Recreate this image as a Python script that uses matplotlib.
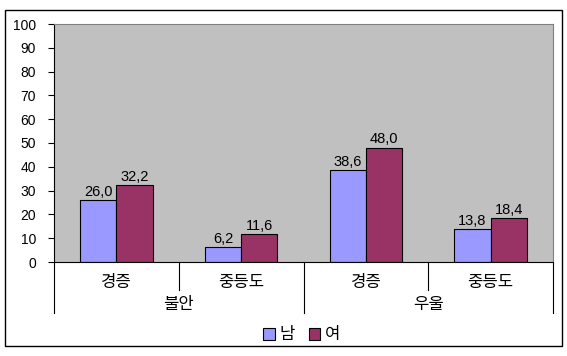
import matplotlib
matplotlib.use("Agg")
import matplotlib.pyplot as plt
from matplotlib.patches import Rectangle
import numpy as np

plt.rcParams["font.family"] = ["Liberation Sans", "Noto Sans CJK KR", "DejaVu Sans"]
plt.rcParams["font.size"] = 10.5

# data
groups = ["불안", "우울"]
categories = ["경증", "중등도", "경증", "중등도"]
male = [26.0, 6.2, 38.6, 13.8]
female = [32.2, 11.6, 48.0, 18.4]
series_names = ["남", "여"]
colors = ["#9999FF", "#993366"]

W, H = 567, 356
fig = plt.figure(figsize=(W / 100, H / 100), dpi=100)
ax = fig.add_axes([54 / W, (H - 262) / H, 499 / W, 238 / H])
ax.set_facecolor("#C0C0C0")

x = np.arange(len(categories))
bw = 0.29
b1 = ax.bar(x - bw / 2, male, bw, color=colors[0], edgecolor="black",
            linewidth=0.8, label=series_names[0])
b2 = ax.bar(x + bw / 2, female, bw, color=colors[1], edgecolor="black",
            linewidth=0.8, label=series_names[1])
ax.bar_label(b1, labels=[f"{v:.1f}".replace(".", ",") for v in male], padding=1)
ax.bar_label(b2, labels=[f"{v:.1f}".replace(".", ",") for v in female], padding=1)

ax.set_xlim(-0.5, len(categories) - 0.5)
ax.set_ylim(0, 100)
ax.set_yticks(range(0, 101, 10))
ax.tick_params(axis="y", length=4, width=0.8, pad=9, direction="out", labelsize=10)
ax.set_xticks([])
for s in ["top", "right"]:
    ax.spines[s].set_color("#808080")
ax.spines["left"].set_color("black")
ax.spines["bottom"].set_color("black")

# two-level category axis
tr = ax.get_xaxis_transform()
short_y = -28 / 238
long_y = -51 / 238
for i, c in enumerate(categories):
    ax.text(i, -20 / 238, c, transform=tr, ha="center", va="center", fontsize=12)
for d in np.arange(-0.5, len(categories), 1.0):
    yy = long_y if int(d + 0.5) % 2 == 0 else short_y
    ax.plot([d, d], [0, yy], transform=tr, color="black", lw=0.8, clip_on=False)
for g, name in enumerate(groups):
    ax.text(2 * g + 0.5, -43 / 238, name, transform=tr, ha="center", va="center",
            fontsize=12)

leg = fig.legend(loc="center", bbox_to_anchor=(302 / W, (H - 335) / H),
                 ncol=2, frameon=False, handlelength=0.7, handleheight=0.7,
                 handletextpad=0.3, columnspacing=0.8, fontsize=12)

fig.patches.append(Rectangle((5 / W, 10 / H), 557 / W, 336 / H,
                             transform=fig.transFigure, fill=False,
                             edgecolor="black", lw=1.0))

fig.savefig("out.png", dpi=100, facecolor="white")
